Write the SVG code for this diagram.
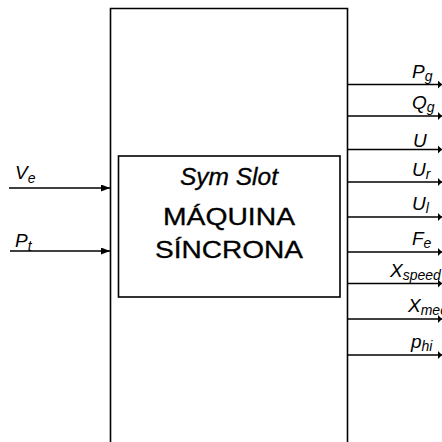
<svg xmlns="http://www.w3.org/2000/svg" width="442" height="442" viewBox="0 0 442 442">
<style>
.ln{stroke:#000;stroke-width:1.6;fill:none}
.lab{font-family:"Liberation Sans",Arial,sans-serif;font-style:italic;font-size:19px;fill:#000}
.sub{font-size:14px}
.big{font-family:"Liberation Sans",Arial,sans-serif;font-size:23px;fill:#000;stroke:#000;stroke-width:0.3}
</style>
<defs>
<marker id="ah" markerWidth="9" markerHeight="7" refX="9" refY="3.5" orient="auto" markerUnits="userSpaceOnUse">
<path d="M0,0 L9,3.5 L0,7 Z" fill="#000"/>
</marker>
<marker id="ahs" markerWidth="4" markerHeight="8" refX="4" refY="4" orient="auto" markerUnits="userSpaceOnUse">
<path d="M0,0 L4,4 L0,8 Z" fill="#000"/>
</marker>
</defs>
<rect width="442" height="442" fill="#fff"/>
<g id="outer">
<path class="ln" d="M110.5,442 V8.5 H347.5 V442"/>
</g>
<g id="machine">
<rect class="ln" x="118.5" y="156" width="221.5" height="141" stroke-width="1.2"/>
<text class="big" x="229" y="185" text-anchor="middle" font-style="italic" font-size="20" textLength="98" lengthAdjust="spacingAndGlyphs">Sym Slot</text>
<text class="big" x="229" y="225" text-anchor="middle" textLength="132" lengthAdjust="spacingAndGlyphs">MÁQUINA</text>
<text class="big" x="229" y="258" text-anchor="middle" textLength="148" lengthAdjust="spacingAndGlyphs">SÍNCRONA</text>
</g>
<g id="connectors">
<line class="ln" x1="9" y1="188" x2="110" y2="188" marker-end="url(#ah)"/>
<line class="ln" x1="10" y1="251" x2="110" y2="251" marker-end="url(#ah)"/>
<line class="ln" x1="348" y1="84.5" x2="442" y2="84.5" marker-end="url(#ahs)"/>
<line class="ln" x1="348" y1="116" x2="442" y2="116" marker-end="url(#ahs)"/>
<line class="ln" x1="348" y1="149.5" x2="442" y2="149.5" marker-end="url(#ahs)"/>
<line class="ln" x1="348" y1="182" x2="442" y2="182" marker-end="url(#ahs)"/>
<line class="ln" x1="348" y1="217" x2="442" y2="217" marker-end="url(#ahs)"/>
<line class="ln" x1="348" y1="252" x2="442" y2="252" marker-end="url(#ahs)"/>
<line class="ln" x1="348" y1="283.5" x2="442" y2="283.5" marker-end="url(#ahs)"/>
<line class="ln" x1="348" y1="319" x2="442" y2="319" marker-end="url(#ahs)"/>
<line class="ln" x1="348" y1="355" x2="442" y2="355" marker-end="url(#ahs)"/>
</g>
<g id="labels">
<text class="lab" x="15" y="179">V<tspan class="sub" dy="4">e</tspan></text>
<text class="lab" x="15" y="247">P<tspan class="sub" dy="4">t</tspan></text>
<text class="lab" x="412" y="78">P<tspan class="sub" dy="3">g</tspan></text>
<text class="lab" x="412" y="109">Q<tspan class="sub" dy="3">g</tspan></text>
<text class="lab" x="413" y="147">U</text>
<text class="lab" x="412" y="176">U<tspan class="sub" dy="3">r</tspan></text>
<text class="lab" x="412" y="210">U<tspan class="sub" dy="3">l</tspan></text>
<text class="lab" x="412" y="245">F<tspan class="sub" dy="3">e</tspan></text>
<text class="lab" x="390" y="277">X<tspan class="sub" dy="3">speed</tspan></text>
<text class="lab" x="408" y="312">X<tspan class="sub" dy="3">mec</tspan></text>
<text class="lab" x="411" y="348">p<tspan class="sub" dy="3">hi</tspan></text>
</g>
</svg>
